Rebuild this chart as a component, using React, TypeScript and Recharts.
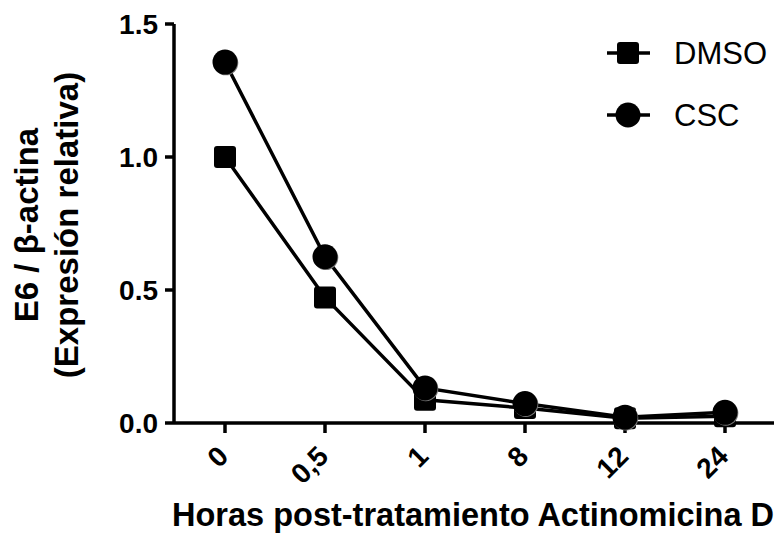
import React from 'react';
import { Line, LineChart, XAxis, YAxis } from 'recharts';

const hours = ['0', '0,5', '1', '8', '12', '24'];
const dmso = [1.0, 0.472, 0.087, 0.056, 0.018, 0.025];
const csc = [1.357, 0.625, 0.132, 0.073, 0.022, 0.04];
const yTicks = [0, 0.5, 1.0, 1.5];

const FONT = '"Liberation Sans", Arial, sans-serif';

const data = hours.map((h, i) => ({ h, dmso: dmso[i], csc: csc[i] }));

const SquareDot = (props: any) => {
  const { cx, cy } = props;
  if (cx == null || cy == null) return null;
  return <rect x={cx - 11} y={cy - 11} width={22} height={22} rx={3} fill="#000" />;
};

const CircleDot = (props: any) => {
  const { cx, cy } = props;
  if (cx == null || cy == null) return null;
  return (
    <g>
      <circle cx={cx + 0.8} cy={cy + 0.8} r={12.5} fill="#777" />
      <circle cx={cx} cy={cy} r={12.5} fill="#000" />
    </g>
  );
};

const XTick = (props: any) => {
  const { x, y, payload } = props;
  const tx = x + 5;
  const ty = y + 23;
  return (
    <text
      x={tx}
      y={ty}
      transform={`rotate(-45, ${tx}, ${ty})`}
      textAnchor="end"
      fontFamily={FONT}
      fontWeight="bold"
      fontSize={28}
      fill="#000"
    >
      {payload.value}
    </text>
  );
};

const YTitle = () => (
  <g fontFamily={FONT} fontWeight="bold" fontSize={33} fill="#000" textAnchor="middle">
    <text x={38} y={225} transform="rotate(-90, 38, 225)">
      E6 / β-actina
    </text>
    <text x={78} y={225} transform="rotate(-90, 78, 225)">
      (Expresión relativa)
    </text>
  </g>
);

const XTitle = () => (
  <text
    x={473}
    y={526}
    textAnchor="middle"
    fontFamily={FONT}
    fontWeight="bold"
    fontSize={32.5}
    fill="#000"
  >
    Horas post-tratamiento Actinomicina D
  </text>
);

const LegendBox = () => {
  const rows = [
    { name: 'DMSO', shape: 'square' },
    { name: 'CSC', shape: 'circle' },
  ];
  return (
    <div style={{ position: 'absolute', left: 600, top: 22, fontFamily: FONT }}>
      {rows.map((r) => (
        <div key={r.name} style={{ display: 'flex', alignItems: 'center', height: 62 }}>
          <svg width={56} height={62}>
            <line x1={7} x2={50} y1={31} y2={31} stroke="#000" strokeWidth={3.5} />
            {r.shape === 'square' ? (
              <rect x={17} y={20} width={22} height={22} rx={3} fill="#000" />
            ) : (
              <circle cx={28} cy={31} r={12.5} fill="#000" />
            )}
          </svg>
          <span style={{ marginLeft: 18, fontSize: 31, color: '#000', lineHeight: 1 }}>
            {r.name}
          </span>
        </div>
      ))}
    </div>
  );
};

export default function App() {
  return (
    <div style={{ position: 'absolute', left: 0, top: 0, width: 777, height: 535, background: '#fff' }}>
      <LineChart
        width={777}
        height={535}
        data={data}
        margin={{ top: 24, right: 3, bottom: 0, left: 0 }}
      >
        <XAxis
          dataKey="h"
          height={112}
          padding={{ left: 51, right: 49 }}
          axisLine={{ stroke: '#000', strokeWidth: 3.5 }}
          tickLine={{ stroke: '#000', strokeWidth: 3.5 }}
          tickSize={10}
          tick={<XTick />}
          interval={0}
          label={{ content: () => <XTitle /> }}
        />
        <YAxis
          width={174}
          domain={[0, 1.5]}
          ticks={yTicks}
          tickFormatter={(v: number) => v.toFixed(1)}
          axisLine={{ stroke: '#000', strokeWidth: 3.5 }}
          tickLine={{ stroke: '#000', strokeWidth: 3.5 }}
          tickSize={9}
          tickMargin={7}
          tick={{ fill: '#000', fontSize: 28, fontWeight: 'bold', fontFamily: FONT }}
          label={{ content: () => <YTitle /> }}
        />
        <Line
          dataKey="dmso"
          name="DMSO"
          stroke="#000"
          strokeWidth={3.5}
          dot={<SquareDot />}
          isAnimationActive={false}
        />
        <Line
          dataKey="csc"
          name="CSC"
          stroke="#000"
          strokeWidth={3.5}
          dot={<CircleDot />}
          isAnimationActive={false}
        />
      </LineChart>
      <LegendBox />
    </div>
  );
}
